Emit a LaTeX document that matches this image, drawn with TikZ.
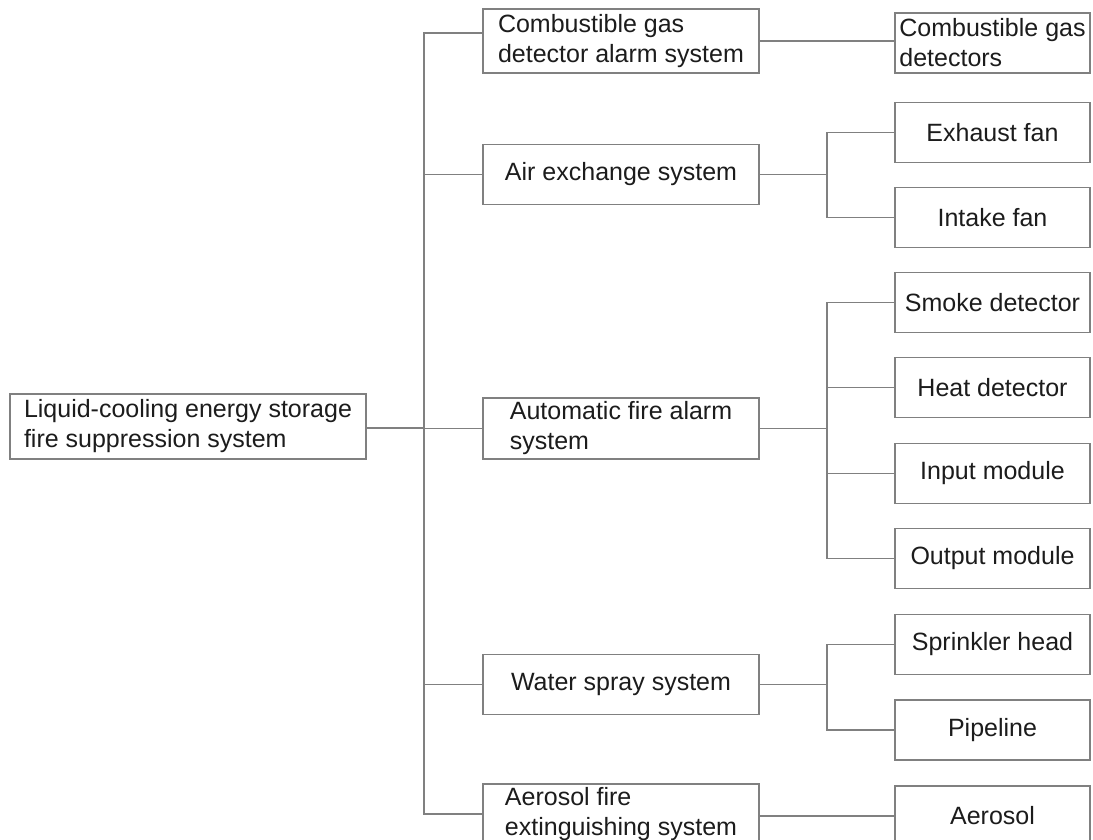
\documentclass[tikz,border=0pt]{standalone}
\usepackage{fontspec}
\setmainfont{Liberation Sans}
\definecolor{linegray}{RGB}{128,128,128}
\definecolor{textgray}{RGB}{28,28,28}
\tikzset{
  sysbox/.style={draw=linegray,line width=1.5pt,inner sep=2pt,minimum height=60pt,
    text=textgray,font=\fontsize{25}{30}\selectfont,align=left},
  midbox/.style={sysbox,minimum width=276pt},
  endbox/.style={sysbox,minimum width=195pt},
  link/.style={draw=linegray,line width=1.5pt}
}
\begin{document}
\begin{tikzpicture}[x=1pt,y=-1pt]
\useasboundingbox[fill=white](0,0)rectangle(1093,839);
\node[sysbox,minimum width=356pt,minimum height=65pt](root)at(188,426.5){Liquid-cooling energy storage\\fire suppression system};
\node[midbox,minimum height=64pt](gasalarm)at(621,41){Combustible gas\\detector alarm system};
\node[midbox](airex)at(621,174.5){Air exchange system};
\node[midbox,minimum height=61pt](firealarm)at(621,428.5){Automatic fire alarm\\system};
\node[midbox](waterspray)at(621,684.5){Water spray system};
\node[midbox](aerofire)at(621,814){Aerosol fire\\extinguishing system};
\node[endbox](gasdet)at(992.5,43){Combustible gas\\detectors};
\node[endbox](exhaust)at(992.5,132.5){Exhaust fan};
\node[endbox](intake)at(992.5,217.5){Intake fan};
\node[endbox](smoke)at(992.5,302.5){Smoke detector};
\node[endbox](heat)at(992.5,387.5){Heat detector};
\node[endbox](input)at(992.5,473.5){Input module};
\node[endbox](output)at(992.5,558.5){Output module};
\node[endbox](sprinkler)at(992.5,644.5){Sprinkler head};
\node[endbox](pipe)at(992.5,730){Pipeline};
\node[endbox](aerosol)at(992.5,816){Aerosol};
\coordinate(hub)at(424,428);
\coordinate(airhub)at(827,174.5);
\coordinate(firehub)at(827,428.5);
\coordinate(waterhub)at(827,684.5);
\draw[link](root.east|-hub)--(hub);
\draw[link]([yshift=8pt]gasalarm.west)-|(hub);
\foreach \b in {airex,firealarm,waterspray,aerofire}
  \draw[link](\b.west)-|(hub);
\draw[link](gasalarm.east)--(gasalarm.east-|gasdet.west);
\draw[link](airex.east)--(airhub);
\foreach \b in {exhaust,intake}
  \draw[link](\b.west)-|(airhub);
\draw[link](firealarm.east)--(firehub);
\foreach \b in {smoke,heat,input,output}
  \draw[link](\b.west)-|(firehub);
\draw[link](waterspray.east)--(waterhub);
\foreach \b in {sprinkler,pipe}
  \draw[link](\b.west)-|(waterhub);
\draw[link](aerofire.east|-aerosol.west)--(aerosol.west);
\end{tikzpicture}
\end{document}
